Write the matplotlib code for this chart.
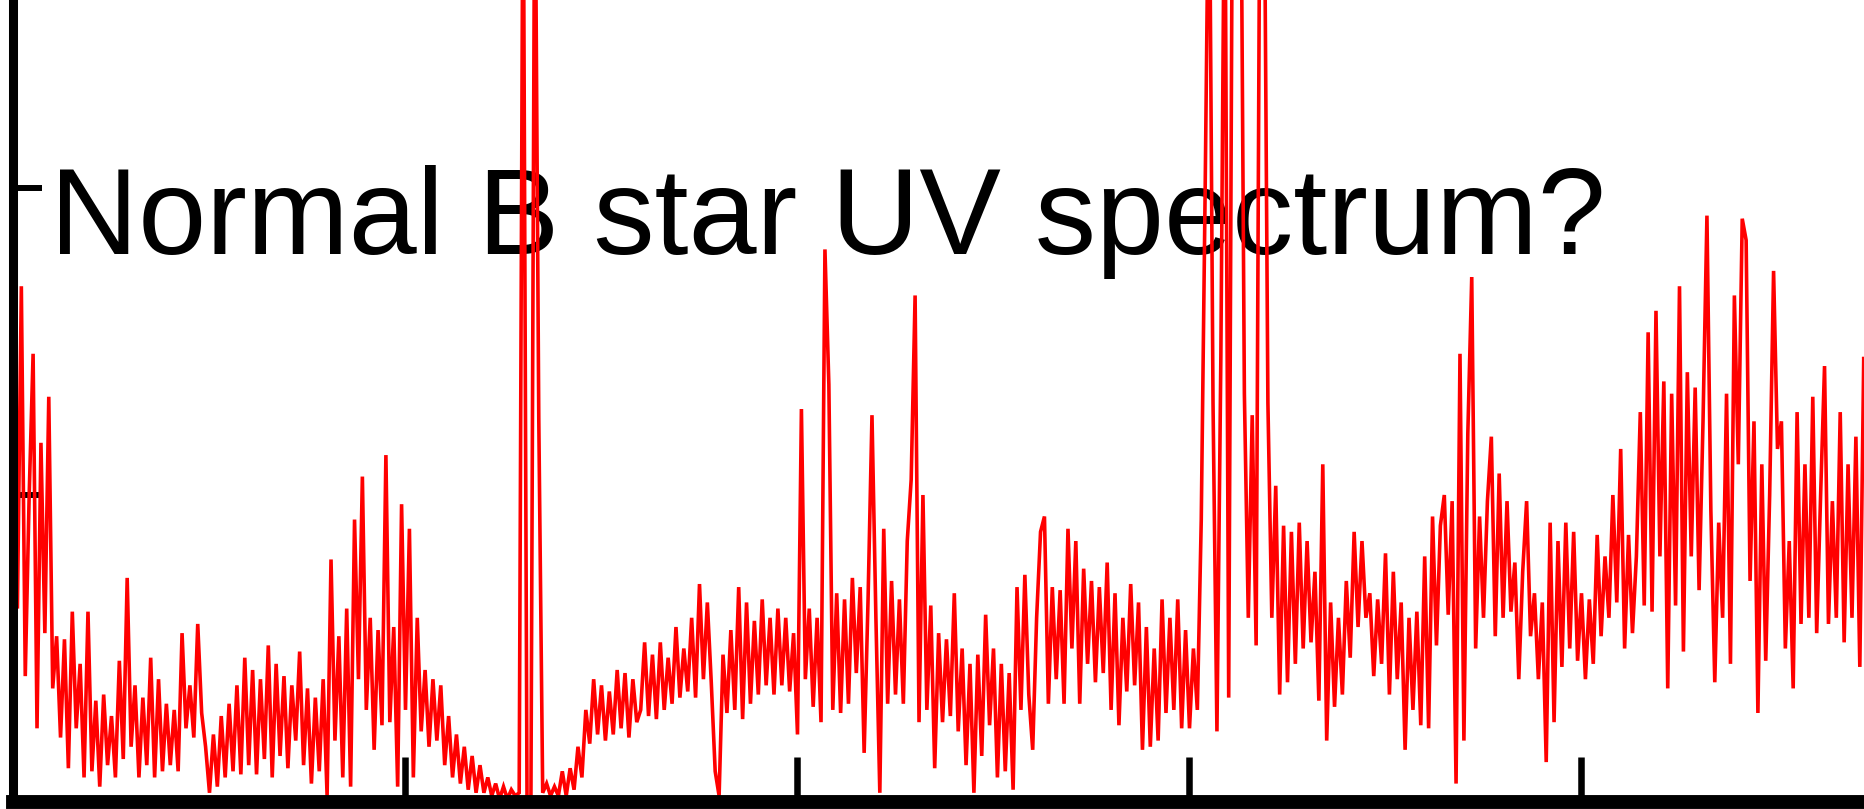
import numpy as np
import matplotlib
matplotlib.use('Agg')
import matplotlib.pyplot as plt

# wavelength grid (Angstrom), 0.5 A sampling
wave = np.arange(1150.0, 1386.75, 0.5)

# flux, one list per 10 A (units: 100 = one y tick)
flux_1150 = [110, 63, 168, 41, 100, 146, 24, 117, 55, 132, 37, 54, 21, 53, 11, 62, 24, 45, 8, 62]
flux_1160 = [10, 33, 5, 35, 12, 28, 8, 46, 14, 73, 18, 38, 8, 34, 12, 47, 8, 40, 10, 32]
flux_1170 = [12, 30, 10, 55, 24, 38, 21, 58, 29, 18, 3, 22, 5, 28, 8, 32, 10, 38, 9, 47]
flux_1180 = [12, 43, 9, 40, 14, 51, 8, 45, 15, 41, 11, 38, 20, 49, 12, 37, 6, 34, 10, 40]
flux_1190 = [2, 79, 20, 54, 8, 63, 5, 92, 40, 106, 30, 60, 17, 56, 25, 113, 26, 57, 5, 97]
flux_1200 = [30, 89, 8, 60, 23, 43, 18, 40, 20, 38, 12, 28, 8, 22, 6, 18, 4, 15, 3, 12]
flux_1210 = [3, 8, 2, 6, 1, 5, 1, 4, 2, 3, 320, 1, 2, 320, 125, 3, 6, 2, 5, 2]
flux_1220 = [10, 2, 11, 4, 18, 8, 30, 19, 40, 22, 38, 20, 36, 22, 43, 24, 42, 21, 40, 26]
flux_1230 = [30, 52, 28, 48, 27, 52, 30, 47, 32, 57, 34, 50, 36, 60, 34, 71, 40, 65, 39, 10]
flux_1240 = [2, 48, 29, 56, 30, 70, 27, 65, 32, 59, 35, 66, 38, 60, 35, 63, 38, 60, 36, 55]
flux_1250 = [22, 128, 40, 63, 31, 60, 26, 180, 136, 30, 68, 29, 66, 32, 73, 42, 70, 16, 66, 126]
flux_1260 = [60, 3, 89, 32, 72, 35, 66, 32, 85, 105, 165, 26, 100, 30, 64, 11, 55, 26, 53, 28]
flux_1270 = [68, 23, 50, 12, 45, 3, 48, 15, 61, 25, 50, 8, 45, 10, 42, 4, 70, 30, 74, 35]
flux_1280 = [17, 60, 88, 93, 32, 70, 40, 69, 32, 89, 50, 85, 32, 76, 45, 72, 39, 70, 42, 78]
flux_1290 = [30, 68, 25, 60, 36, 71, 38, 65, 17, 57, 18, 50, 20, 66, 29, 60, 30, 66, 24, 56]
flux_1300 = [24, 50, 30, 92, 200, 320, 130, 23, 145, 320, 34, 320, 320, 330, 133, 60, 126, 51, 320, 320]
flux_1310 = [130, 60, 103, 35, 90, 39, 88, 45, 91, 50, 85, 52, 75, 33, 110, 20, 65, 31, 60, 35]
flux_1320 = [72, 47, 88, 57, 85, 60, 68, 41, 66, 45, 81, 35, 75, 40, 65, 17, 60, 30, 62, 25]
flux_1330 = [80, 24, 93, 51, 90, 100, 61, 98, 6, 146, 20, 120, 171, 50, 93, 60, 98, 119, 54, 107]
flux_1340 = [60, 98, 62, 78, 40, 75, 98, 54, 68, 40, 65, 13, 91, 26, 85, 44, 91, 50, 88, 46]
flux_1350 = [68, 40, 66, 45, 87, 54, 80, 60, 100, 65, 115, 50, 87, 55, 80, 127, 64, 153, 62, 160]
flux_1360 = [80, 137, 37, 133, 64, 168, 49, 140, 80, 135, 69, 124, 191, 95, 39, 91, 60, 133, 45, 165]
flux_1370 = [110, 190, 183, 72, 124, 29, 110, 46, 100, 173, 115, 124, 50, 85, 37, 127, 58, 110, 60, 132]
flux_1380 = [55, 100, 142, 58, 98, 60, 127, 52, 110, 60, 119, 44, 145, 100]

flux = np.array(flux_1150 + flux_1160 + flux_1170 + flux_1180 + flux_1190 + flux_1200
                + flux_1210 + flux_1220 + flux_1230 + flux_1240 + flux_1250 + flux_1260
                + flux_1270 + flux_1280 + flux_1290 + flux_1300 + flux_1310 + flux_1320
                + flux_1330 + flux_1340 + flux_1350 + flux_1360 + flux_1370 + flux_1380, dtype=float)

xticks = [1150, 1200, 1250, 1300, 1350, 1400]
yticks = [0, 100, 200, 300]
label = 'Normal B star UV spectrum?'

W, H = 1865, 809
fig = plt.figure(figsize=(W/100, H/100), dpi=100)
# the plot is cut by the frame: top and right sides fall outside the picture
ax = fig.add_axes([13.5/W, 7/H, 1960/W, 921/H])
ax.plot(wave, flux, color='#ff0000', lw=2.6, solid_joinstyle='miter', zorder=2)
ax.set_xlim(1150, 1400)
ax.set_ylim(0, 300)
ax.set_xticks(xticks)
ax.set_yticks(yticks)
ax.tick_params(axis='x', direction='in', length=32.4, width=4.7, labelbottom=False, color='black')
ax.tick_params(axis='y', direction='in', length=21, width=4.3, labelleft=False, color='black')
ax.spines['left'].set_linewidth(6.5)
ax.spines['bottom'].set_linewidth(10)
ax.spines['left'].set_capstyle('projecting')
ax.text(1154.7, 178.5, label, fontsize=88, family=['Liberation Sans', 'DejaVu Sans'],
        ha='left', va='baseline', color='black', zorder=1)
fig.savefig('out.png', dpi=100)
